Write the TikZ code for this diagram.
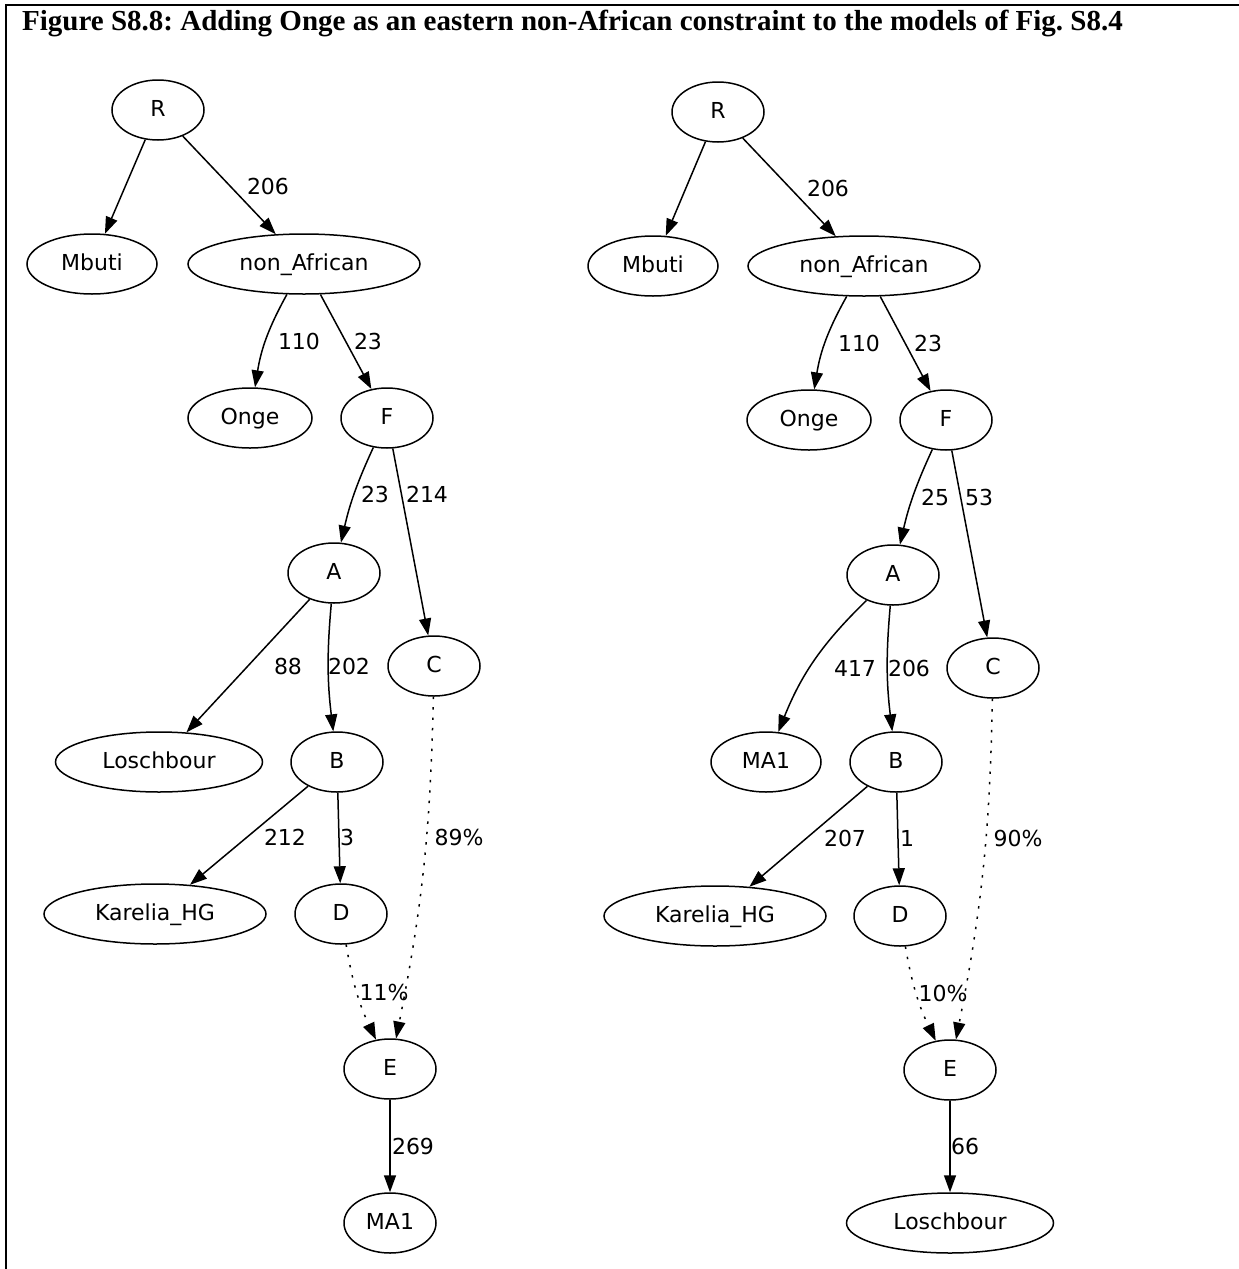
\documentclass[tikz,border=0pt]{standalone}
\usepackage{fontspec}
\setmainfont{Liberation Serif}
\newfontfamily\dvsans{DejaVu Sans}
\usetikzlibrary{shapes.geometric, arrows.meta}

\begin{document}
\begin{tikzpicture}[x=1pt, y=-1pt,
    pop/.style={draw, ellipse, line width=1.5pt, minimum height=60pt, minimum width=92pt, inner sep=0pt, text height=16pt, text depth=4pt, font=\dvsans\fontsize{22}{24}\selectfont},
    edge/.style={line width=1.5pt, -{Triangle[length=17pt, width=12pt]}},
    mix/.style={edge, dash pattern=on 2.4pt off 8pt},
    lbl/.style={font=\dvsans\fontsize{22}{24}\selectfont, inner sep=0pt}]
  \useasboundingbox (0,0) rectangle (1239,1269);
  \draw[line width=2.5pt] (6,1269) -- (6,5) -- (1239,5);
  \node[anchor=base west, inner sep=0pt, font=\bfseries\fontsize{29}{32}\selectfont] (title) at (22,30) {\frenchspacing Figure S8.8: Adding Onge as an eastern non-African constraint to the models of Fig. S8.4};

  % Left model
  \node[pop] (lR) at (158,110) {R};
  \node[pop, minimum width=130pt] (lMbuti) at (92,264) {Mbuti};
  \node[pop, minimum width=232pt] (lNonAf) at (304,264) {non\_African};
  \node[pop, minimum width=124pt] (lOnge) at (250,418) {Onge};
  \node[pop] (lF) at (387,418) {F};
  \node[pop] (lA) at (334,573) {A};
  \node[pop] (lC) at (434,666) {C};
  \node[pop, minimum width=207pt] (lLosch) at (159,762) {Loschbour};
  \node[pop] (lB) at (337,762) {B};
  \node[pop, minimum width=222pt] (lKarelia) at (155,914) {Karelia\_HG};
  \node[pop] (lD) at (341,914) {D};
  \node[pop] (lE) at (390,1069) {E};
  \node[pop] (lMA) at (390,1223) {MA1};

  \draw[edge] (lR) -- (lMbuti);
  \draw[edge] (lR) -- (lNonAf) node[lbl] at (268,186) {206};
  \draw[edge] (lNonAf) to[bend right=10] (lOnge) node[lbl] at (299,341) {110};
  \draw[edge] (lNonAf) -- (lF) node[lbl] at (368,341) {23};
  \draw[edge] (lF) to[bend right=6] (lA) node[lbl] at (375,494) {23};
  \draw[edge] (lF) -- (lC) node[lbl] at (427,494) {214};
  \draw[edge] (lA) -- (lLosch) node[lbl] at (288,666) {88};
  \draw[edge] (lA) to[bend right=6] (lB) node[lbl] at (349,666) {202};
  \draw[edge] (lB) -- (lKarelia) node[lbl] at (285,837) {212};
  \draw[edge] (lB) -- (lD) node[lbl] at (347,837) {3};
  \draw[mix] (lC) to[bend left=5] (lE) node[lbl] at (459,837) {89\%};
  \draw[mix] (lD) to[bend right=8] (lE) node[lbl] at (384,992) {11\%};
  \draw[edge] (lE) -- (lMA) node[lbl] at (413,1146) {269};

  % Right model
  \node[pop] (rR) at (718,112) {R};
  \node[pop, minimum width=130pt] (rMbuti) at (653,266) {Mbuti};
  \node[pop, minimum width=232pt] (rNonAf) at (864,266) {non\_African};
  \node[pop, minimum width=124pt] (rOnge) at (809,420) {Onge};
  \node[pop] (rF) at (946,420) {F};
  \node[pop] (rA) at (893,575) {A};
  \node[pop] (rC) at (993,668) {C};
  \node[pop, minimum width=110pt] (rMA) at (766,762) {MA1};
  \node[pop] (rB) at (896,762) {B};
  \node[pop, minimum width=222pt] (rKarelia) at (715,916) {Karelia\_HG};
  \node[pop] (rD) at (900,916) {D};
  \node[pop] (rE) at (950,1070) {E};
  \node[pop, minimum width=207pt] (rLosch) at (950,1223) {Loschbour};

  \draw[edge] (rR) -- (rMbuti);
  \draw[edge] (rR) -- (rNonAf) node[lbl] at (828,188) {206};
  \draw[edge] (rNonAf) to[bend right=10] (rOnge) node[lbl] at (859,343) {110};
  \draw[edge] (rNonAf) -- (rF) node[lbl] at (928,343) {23};
  \draw[edge] (rF) to[bend right=6] (rA) node[lbl] at (935,497) {25};
  \draw[edge] (rF) -- (rC) node[lbl] at (979,497) {53};
  \draw[edge] (rA) to[bend right=12] (rMA) node[lbl] at (855,668) {417};
  \draw[edge] (rA) to[bend right=6] (rB) node[lbl] at (909,668) {206};
  \draw[edge] (rB) -- (rKarelia) node[lbl] at (845,838) {207};
  \draw[edge] (rB) -- (rD) node[lbl] at (907,838) {1};
  \draw[mix] (rC) to[bend left=5] (rE) node[lbl] at (1018,838) {90\%};
  \draw[mix] (rD) to[bend right=8] (rE) node[lbl] at (943,993) {10\%};
  \draw[edge] (rE) -- (rLosch) node[lbl] at (965,1146) {66};
\end{tikzpicture}
\end{document}
